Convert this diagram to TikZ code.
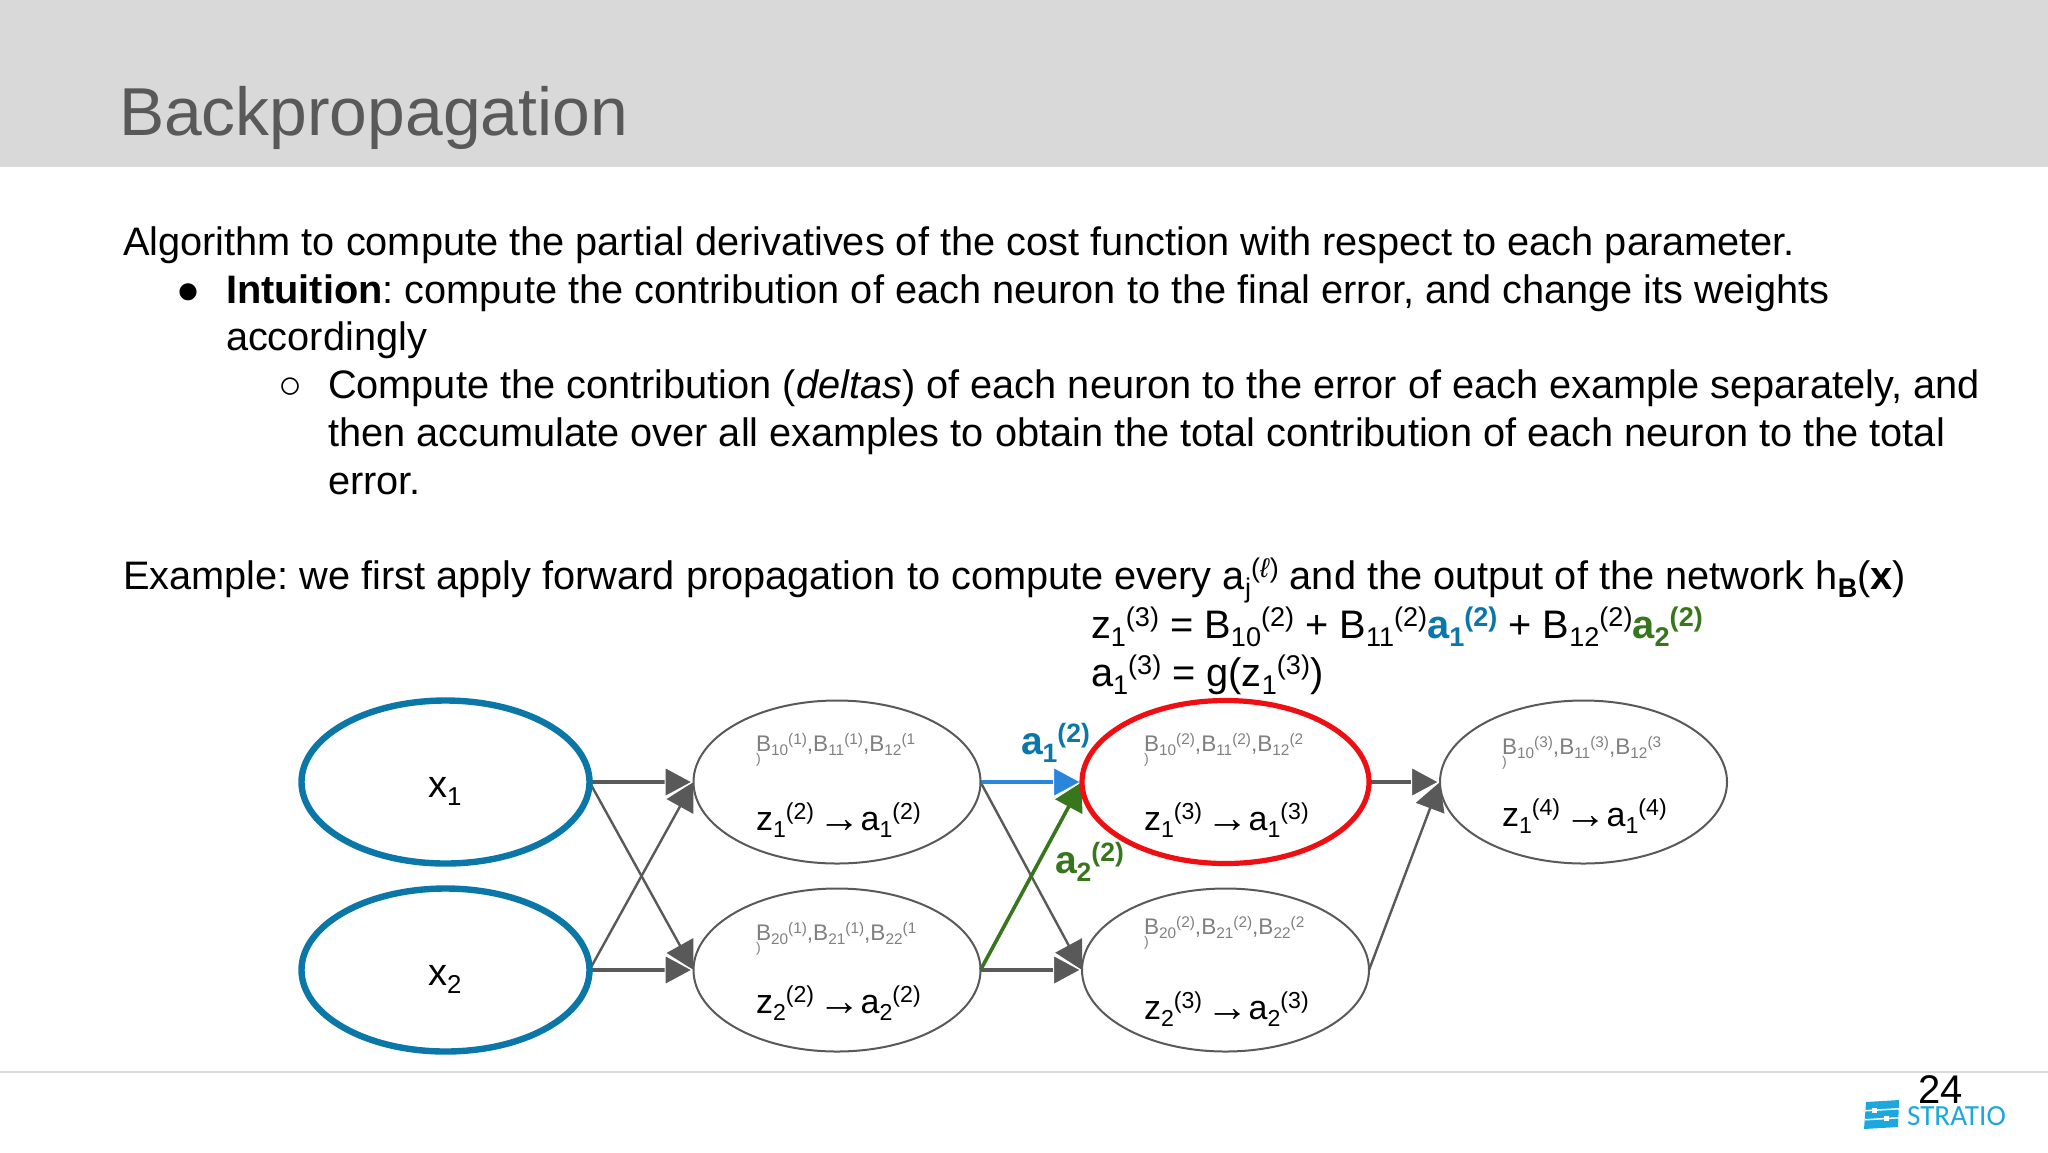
\documentclass[tikz,border=0pt]{standalone}
\usepackage{fontspec}
\usepackage{graphicx}
\setmainfont{Liberation Sans}
\newfontfamily\logofont{Carlito}
\usetikzlibrary{shapes.geometric,arrows.meta,backgrounds}
\definecolor{hdr}{HTML}{D9D9D9}
\definecolor{ttl}{HTML}{595959}
\definecolor{arr}{HTML}{595959}
\definecolor{inb}{HTML}{0B77A8}
\definecolor{redc}{HTML}{EE0F13}
\definecolor{bluea}{HTML}{2A86DB}
\definecolor{greena}{HTML}{38761D}
\definecolor{grayt}{HTML}{808080}
\definecolor{logoc}{HTML}{1CA8DD}
\frenchspacing
\newcommand\fs[1]{\fontsize{#1}{#1}\selectfont}
\newcommand\up[1]{\raisebox{.30em}{\scalebox{.68}{#1}}}
\newcommand\dn[1]{\raisebox{-.22em}{\scalebox{.68}{#1}}}
\newcommand\zaz[3]{z\dn{#1}\up{(#2)}\kern.12em\raisebox{-.06em}{\scalebox{1.25}{→}}a\dn{#1}\up{(#3)}}
\newcommand\bbb[2]{B\dn{#10}\up{(#2)},B\dn{#11}\up{(#2)},B\dn{#12}\up{(#2}}
\tikzset{
  x=0.5pt,y=-0.5pt,
  neuron/.style={ellipse,draw=arr,line width=1pt,minimum width=143.5pt,minimum height=81.5pt,inner sep=0pt,outer sep=0pt},
  inputn/.style={neuron,draw=inb,line width=3.2pt,minimum width=144pt,minimum height=81.5pt},
  hot/.style={neuron,draw=redc,line width=2.6pt},
  txt/.style={anchor=base west,inner sep=0pt,outer sep=0pt,font=\fs{19.87}},
  ttlt/.style={txt,font=\fs{33.9},text=ttl},
  eqn/.style={txt,font=\fs{19.9}},
  zt/.style={txt,font=\fs{17}},
  bt/.style={txt,font=\fs{11.3},text=grayt},
  pt/.style={txt,font=\fs{7},text=grayt},
  lab/.style={txt,font=\fs{19.5}\bfseries},
  hconn/.style={draw=arr,line width=1.6pt,-{Triangle[length=14.5pt,width=15.5pt,fill=arr,color=white,line width=.6pt]}},
  dconn/.style={draw=arr,line width=1.2pt,-{Triangle[length=14pt,width=15pt,fill=arr]}},
}
\begin{document}
\begin{tikzpicture}
\useasboundingbox (0,0) rectangle (2048,1152);

\node[ttlt] (title) at (119,135) {Backpropagation};
\node[txt] (l1) at (123,255) {Algorithm to compute the partial derivatives of the cost function with respect to each parameter.};
\node[txt] (b1) at (176,303) {●};
\node[txt] (l2) at (226,303) {\textbf{Intuition}: compute the contribution of each neuron to the final error, and change its weights};
\node[txt] (l3) at (226,350) {accordingly};
\node[txt] (b2) at (278,398) {○};
\node[txt] (l4) at (328,398) {Compute the contribution (\textit{deltas}) of each neuron to the error of each example separately, and};
\node[txt] (l5) at (328,446) {then accumulate over all examples to obtain the total contribution of each neuron to the total};
\node[txt] (l6) at (328,494) {error.};
\node[txt] (l7) at (123,589) {Example: we first apply forward propagation to compute every a\dn{j}\up{(\textit{ℓ})} and the output of the network h\dn{\textbf{B}}(\textbf{x})};
\node[eqn] (e1) at (1091,638) {z\dn{1}\up{(3)} = B\dn{10}\up{(2)} + B\dn{11}\up{(2)}\textcolor{inb}{\textbf{a\dn{1}\up{(2)}}} + B\dn{12}\up{(2)}\textcolor{greena}{\textbf{a\dn{2}\up{(2)}}}};
\node[eqn] (e2) at (1091,686) {a\dn{1}\up{(3)} = g(z\dn{1}\up{(3)})};

\node[inputn] (x1) at (445.5,782) {};
\node[inputn] (x2) at (445.5,970) {};
\node[neuron] (n1) at (837,782) {};
\node[neuron] (n2) at (837,970) {};
\node[hot] (n3) at (1225.5,782) {};
\node[neuron] (n4) at (1225.5,970) {};
\node[neuron] (n5) at (1583.5,782) {};

\node[txt,font=\fs{19}] (tx1) at (428,797) {x\dn{1}};
\node[txt,font=\fs{19}] (tx2) at (428,985) {x\dn{2}};

\node[bt] (b1a) at (756,751) {\bbb{1}{1}};
\node[pt] (b1b) at (756,763) {)};
\node[zt] (z1a) at (756,830) {\zaz{1}{2}{2}};
\node[bt] (b2a) at (756,940) {\bbb{2}{1}};
\node[pt] (b2b) at (756,952) {)};
\node[zt] (z2a) at (756,1013) {\zaz{2}{2}{2}};
\node[bt] (b3a) at (1144,751) {\bbb{1}{2}};
\node[pt] (b3b) at (1144,763) {)};
\node[zt] (z3a) at (1144,830) {\zaz{1}{3}{3}};
\node[bt] (b4a) at (1144,934) {\bbb{2}{2}};
\node[pt] (b4b) at (1144,946) {)};
\node[zt] (z4a) at (1144,1019) {\zaz{2}{3}{3}};
\node[bt] (b5a) at (1502,754) {\bbb{1}{3}};
\node[pt] (b5b) at (1502,766) {)};
\node[zt] (z5a) at (1502,826) {\zaz{1}{4}{4}};

\node[lab,text=inb] (la1) at (1021,754) {a\dn{1}\up{(2)}};
\node[lab,text=greena] (la2) at (1055,873) {a\dn{2}\up{(2)}};

\node[txt,font=\fs{20},text=black] (page) at (1918,1103) {24};
\node[txt,font=\fs{14.6}\logofont,text=logoc] (logo) at (1907,1125) {STRATIO};
\fill[logoc] (1866,1102) -- (1899,1100) -- (1898,1127) -- (1864,1129) -- cycle;
\fill[white] (1865,1110) -- (1899,1108) -- (1899,1109.5) -- (1865,1111.5) -- cycle;
\fill[white] (1865,1119) -- (1899,1117) -- (1899,1118.5) -- (1865,1120.5) -- cycle;
\fill[white] (1872,1108) rectangle (1877,1113);
\fill[white] (1884,1116) rectangle (1889,1121);

\begin{pgfonlayer}{background}
\fill[white] (0,0) rectangle (2048,1152);
\fill[hdr] (0,0) rectangle (2048,167);
\draw[hdr,line width=1pt] (0,1072) -- (2048,1072);
\draw[dconn] (x1.east) -- (n2.west);
\draw[dconn] (x2.east) -- (n1.west);
\draw[hconn] (x1.east) -- (n1.west);
\draw[hconn] (x2.east) -- (n2.west);
\draw[dconn] (n1.east) -- (n4.west);
\draw[hconn] (n2.east) -- (n4.west);
\draw[draw=greena,line width=1.8pt,-{Triangle[length=14pt,width=15pt,fill=greena]}] (n2.east) -- (n3.west);
\draw[draw=bluea,line width=2.2pt,-{Triangle[length=14.5pt,width=15.5pt,fill=bluea,color=white,line width=.6pt]}] (n1.east) -- (n3.west);
\draw[dconn] (n4.east) -- (n5.west);
\draw[hconn] (n3.east) -- (n5.west);
\end{pgfonlayer}
\end{tikzpicture}
\end{document}
